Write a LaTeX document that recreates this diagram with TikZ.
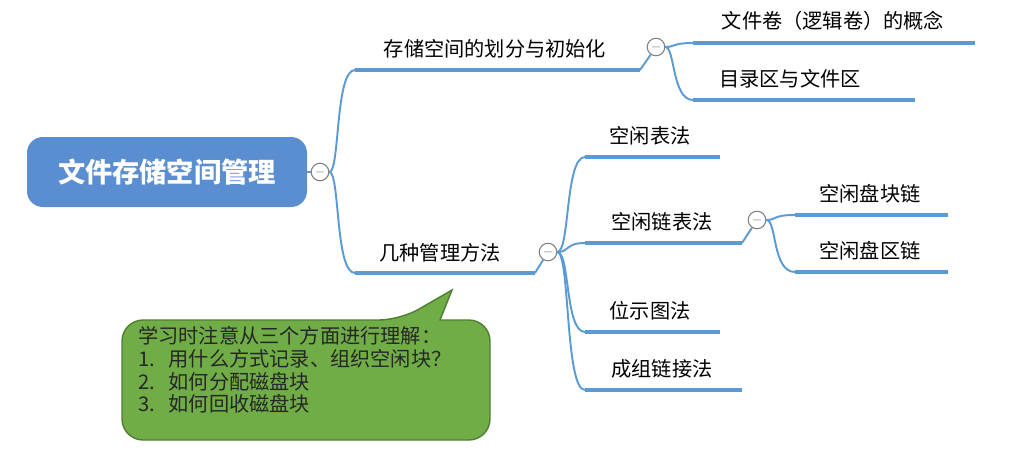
\documentclass[tikz,border=0pt]{standalone}
\usepackage{fontspec}
\setmainfont{Noto Sans CJK SC}
\definecolor{bl}{HTML}{5B9BD5}
\definecolor{rootc}{HTML}{5A8ED0}
\definecolor{gr}{HTML}{70AD47}
\definecolor{grd}{HTML}{507E32}
\begin{document}
\begin{tikzpicture}[x=0.02cm,y=-0.02cm,
  bar/.style={draw=bl,line width=2.3pt},
  conn/.style={draw=bl,line width=1.1pt},
  lab/.style={font=\fontsize{11.5}{13}\selectfont,anchor=base},
  tog/.style={circle,draw=gray,fill=white,line width=0.6pt,minimum size=10pt,inner sep=0pt,font=\fontsize{7}{7}\selectfont,text=gray}]
\useasboundingbox (0,0) rectangle (1029,454);
% root
\node[fill=rootc,rounded corners=9pt,minimum width=280*0.02cm,minimum height=70*0.02cm,text=white,font=\fontsize{15.5}{18}\selectfont\bfseries] (root) at (167,172) {文件存储空间管理};
\node[tog] (t0) at (320,172) {$-$};
\draw[conn] (root.east) -- (t0);
% branch 1
\coordinate (b1s) at (355,70); \coordinate (b1e) at (640,70);
\draw[bar] (b1s) -- (b1e);
\node[lab] (l1) at (495,56) {存储空间的划分与初始化};
\coordinate (b2s) at (355,273); \coordinate (b2e) at (535,273);
\draw[bar] (b2s) -- (b2e);
\node[lab] (l2) at (440,260) {几种管理方法};
\draw[conn] (t0.east) .. controls (340,172) and (335,70) .. (b1s);
\draw[conn] (t0.east) .. controls (340,172) and (335,273) .. (b2s);
% branch 1 children
\node[tog] (t1) at (656,47) {$-$};
\draw[conn] (b1e) -- (t1);
\coordinate (c1s) at (693,43); \coordinate (c1e) at (975,43);
\coordinate (c2s) at (693,100); \coordinate (c2e) at (915,100);
\draw[bar] (c1s) -- (c1e); \draw[bar] (c2s) -- (c2e);
\node[lab] (l3) at (833,28) {文件卷（逻辑卷）的概念};
\node[lab] (l4) at (790,86) {目录区与文件区};
\draw[conn] (t1.east) .. controls (675,47) and (672,43) .. (c1s);
\draw[conn] (t1.east) .. controls (675,47) and (672,100) .. (c2s);
% branch 2 children
\node[tog] (t2) at (548,252) {$-$};
\draw[conn] (b2e) -- (t2);
\foreach \n/\y/\e/\t/\cx in {d1/157/720/空闲表法/650, d2/243/742/空闲链表法/662, d3/332/720/位示图法/650, d4/390/742/成组链接法/662}{
  \coordinate (\n s) at (585,\y); \coordinate (\n e) at (\e,\y);
  \draw[bar] (\n s) -- (\n e);
  \node[lab] at (\cx,\y-14) {\t};
  \draw[conn] (t2.east) .. controls (570,252) and (565,\y) .. (\n s);
}
% sub children
\node[tog] (t3) at (757,220) {$-$};
\draw[conn] (d2e) -- (t3);
\foreach \n/\y/\t in {e1/215/空闲盘块链, e2/272/空闲盘区链}{
  \coordinate (\n s) at (795,\y); \coordinate (\n e) at (948,\y);
  \draw[bar] (\n s) -- (\n e);
  \node[lab] at (870,\y-14) {\t};
  \draw[conn] (t3.east) .. controls (777,220) and (772,\y) .. (\n s);
}
% callout
\coordinate (tip) at (452,290);
\draw[fill=gr,draw=grd,line width=0.8pt,rounded corners=12pt]
  (122,320) -- (400,320) [sharp corners]-- (tip) -- (440,320) [rounded corners=12pt]-- (490,320) -- (490,440) -- (122,440) -- cycle;
\node[anchor=north west,align=left,font=\fontsize{11.5}{13}\selectfont,text=black!85] (note) at (132,320) {学习时注意从三个方面进行理解：\\1.\ \ \ 用什么方式记录、组织空闲块？\\2.\ \ \ 如何分配磁盘块\\3.\ \ \ 如何回收磁盘块};
\end{tikzpicture}
\end{document}
